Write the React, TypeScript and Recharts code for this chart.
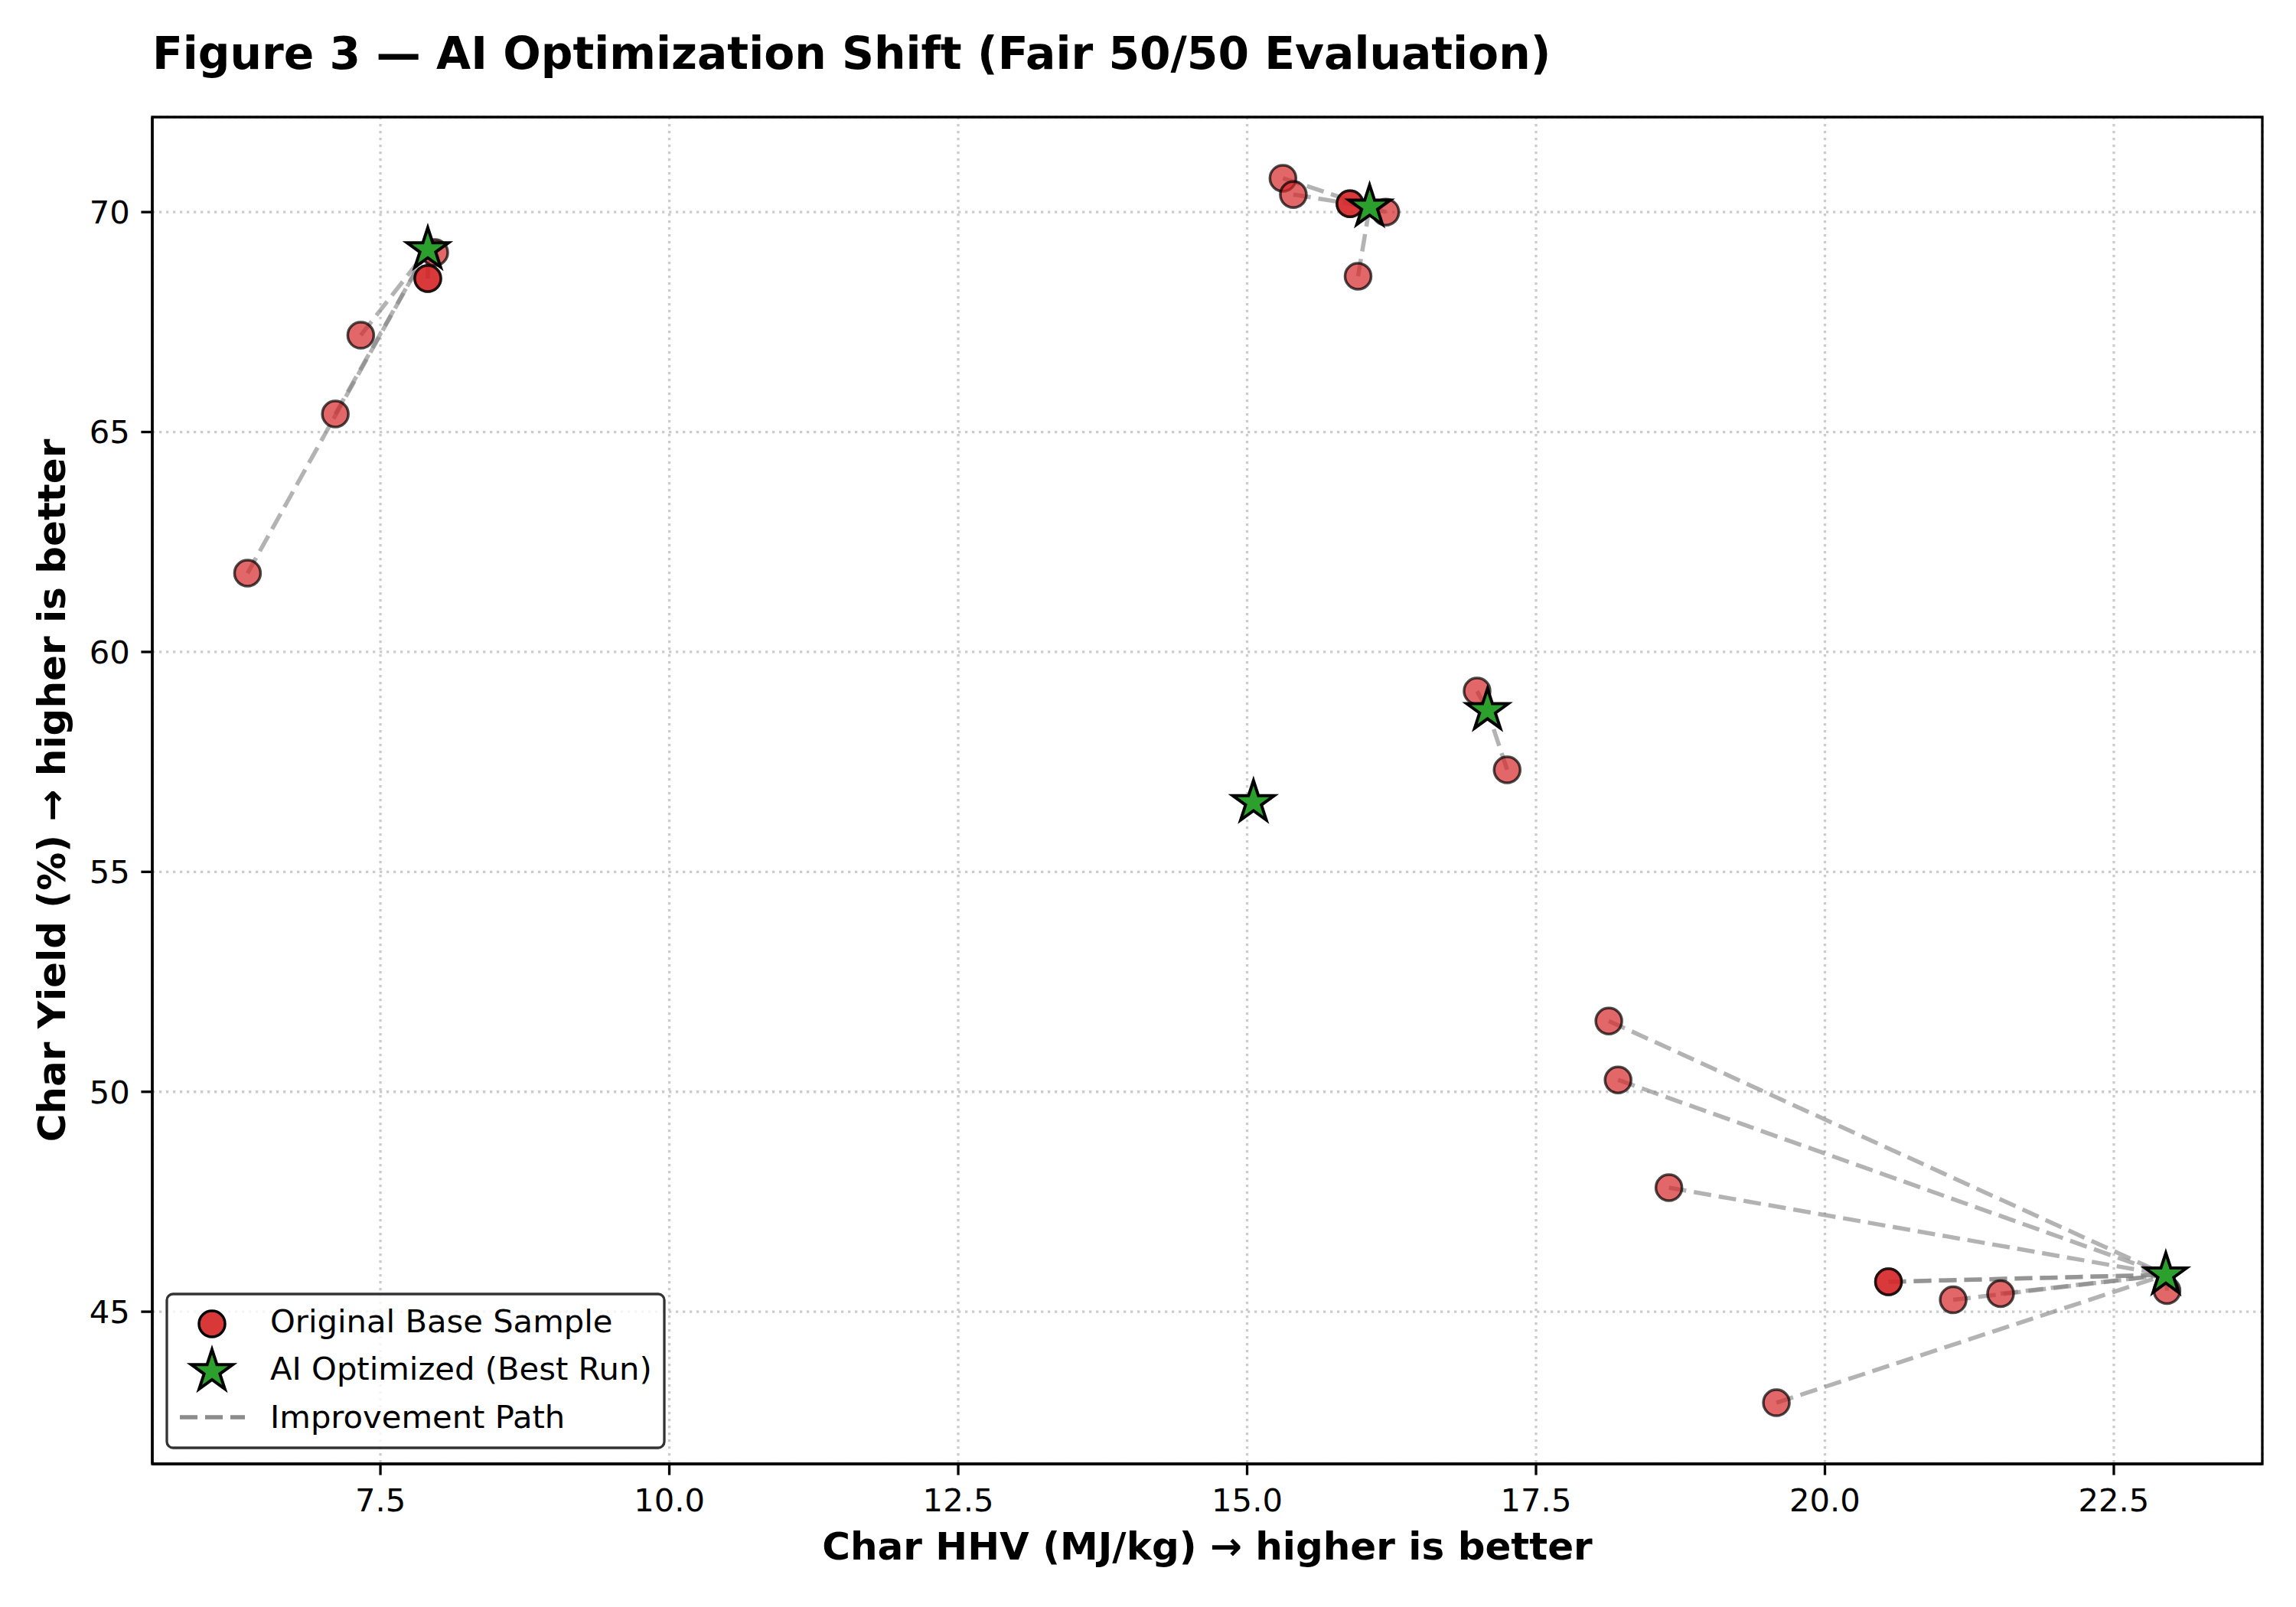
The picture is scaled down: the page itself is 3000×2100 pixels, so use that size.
import React from 'react';
import { ScatterChart, Scatter, XAxis, YAxis, CartesianGrid, ReferenceArea } from 'recharts';

// ---- data ----
const optHHV = [7.91, 16.06, 17.08, 15.055, 22.95];
const optYield = [69.15, 70.12, 58.67, 56.58, 45.84];

const baseHHV = [6.35, 7.11, 7.33, 7.91, 7.91, 7.97, 15.31, 15.4, 15.89, 15.89, 16.2, 15.96, 16.99, 17.25, 18.13, 18.21, 18.65, 20.55, 20.55, 21.11, 21.52, 19.58, 22.96];
const baseYield = [61.79, 65.41, 67.2, 68.49, 68.49, 69.08, 70.77, 70.4, 70.19, 70.19, 70.0, 68.54, 59.11, 57.32, 51.61, 50.27, 47.82, 45.68, 45.68, 45.27, 45.41, 42.93, 45.48];
const baseGroup = [0, 0, 0, 0, 0, 0, 1, 1, 1, 1, 1, 1, 2, 2, 4, 4, 4, 4, 4, 4, 4, 4, 4];

const xTicks = [7.5, 10, 12.5, 15, 17.5, 20, 22.5];
const yTicks = [45, 50, 55, 60, 65, 70];
const xDomain = [5.526, 23.785];
const yDomain = [41.54, 72.16];

const titleText = 'Figure 3 \u2014 AI Optimization Shift (Fair 50/50 Evaluation)';
const xLabelText = 'Char HHV (MJ/kg) \u2192 higher is better';
const yLabelText = 'Char Yield (%) \u2192 higher is better';
const legendLabels = ['Original Base Sample', 'AI Optimized (Best Run)', 'Improvement Path'];

// ---- derived tables ----
const basePoints = baseHHV.map((x, i) => ({ x, y: baseYield[i] }));
const optPoints = optHHV.map((x, i) => ({ x, y: optYield[i] }));
const paths = baseHHV.map((x, i) => [
  { x, y: baseYield[i] },
  { x: optHHV[baseGroup[i]], y: optYield[baseGroup[i]] },
]);

const W = 3000;
const H = 2100;
const FONT = "'DejaVu Sans', 'Liberation Sans', sans-serif";
const RED = '#d62728';
const GREEN = '#2ca02c';

function starPts(cx: number, cy: number, R: number) {
  const r = R * 0.381966;
  const pts: string[] = [];
  for (let k = 0; k < 10; k++) {
    const a = (-90 + k * 36) * (Math.PI / 180);
    const rad = k % 2 === 0 ? R : r;
    pts.push(`${cx + rad * Math.cos(a)},${cy + rad * Math.sin(a)}`);
  }
  return pts.join(' ');
}

const CircleShape = (p: any) => (
  <circle
    cx={p.cx}
    cy={p.cy}
    r={17}
    fill={RED}
    fillOpacity={0.7}
    stroke="#000"
    strokeOpacity={0.7}
    strokeWidth={3.5}
  />
);

const StarShape = (p: any) => (
  <polygon
    points={starPts(p.cx, p.cy, 28.5)}
    fill={GREEN}
    stroke="#000"
    strokeWidth={4}
    strokeLinejoin="miter"
  />
);

const NoShape = () => <g />;

const tickStyle = { fontSize: 41.7, fill: '#000', fontFamily: FONT };
const axisStroke = { stroke: '#000', strokeWidth: 3.3 };

export default function App() {
  return (
    <div style={{ position: 'absolute', left: 0, top: 0, width: W, height: H, background: '#fff' }}>
      <ScatterChart
        width={W}
        height={H}
        margin={{ top: 153, right: 44, left: 79, bottom: 87 }}
      >
        <CartesianGrid
          stroke="#cccccc"
          strokeWidth={3.3}
          strokeDasharray="3.3 5.7"
        />
        <XAxis
          dataKey="x"
          type="number"
          domain={xDomain}
          ticks={xTicks}
          allowDataOverflow
          tickFormatter={(v: number) => v.toFixed(1)}
          height={100}
          tickSize={14.6}
          tickMargin={17.8}
          tick={tickStyle}
          axisLine={axisStroke}
          tickLine={axisStroke}
        />
        <YAxis
          dataKey="y"
          type="number"
          domain={yDomain}
          ticks={yTicks}
          allowDataOverflow
          tickFormatter={(v: number) => String(v)}
          width={120}
          tickSize={14.6}
          tickMargin={14.6}
          tick={tickStyle}
          axisLine={axisStroke}
          tickLine={axisStroke}
        />
        {paths.map((pd, i) => (
          <Scatter
            key={'path' + i}
            data={pd}
            line={{ stroke: '#808080', strokeOpacity: 0.6, strokeWidth: 5.5, strokeDasharray: '23 10' }}
            shape={NoShape}
            isAnimationActive={false}
          />
        ))}
        <Scatter data={basePoints} shape={CircleShape} isAnimationActive={false} />
        <Scatter data={optPoints} shape={StarShape} isAnimationActive={false} />
        <ReferenceArea
          x1={xDomain[0]}
          x2={xDomain[1]}
          y1={yDomain[0]}
          y2={yDomain[1]}
          fill="none"
          fillOpacity={0}
          stroke="#000"
          strokeWidth={3.3}
          strokeOpacity={1}
          ifOverflow="visible"
        />
      </ScatterChart>

      <svg
        width={W}
        height={H}
        style={{ position: 'absolute', left: 0, top: 0, pointerEvents: 'none' }}
      >
        <text x={199} y={90} fontFamily={FONT} fontWeight="bold" fontSize={58.3} fill="#000">
          {titleText}
        </text>
        <text x={1577.5} y={2038} textAnchor="middle" fontFamily={FONT} fontWeight="bold" fontSize={50} fill="#000">
          {xLabelText}
        </text>
        <text
          x={0}
          y={0}
          transform="translate(85,1033) rotate(-90)"
          textAnchor="middle"
          fontFamily={FONT}
          fontWeight="bold"
          fontSize={50}
          fill="#000"
        >
          {yLabelText}
        </text>

        <g>
          <rect x={218} y={1691} width={650} height={201} rx={8} ry={8} fill="#fff" fillOpacity={0.8} stroke="#000" strokeOpacity={0.8} strokeWidth={3.3} />
          <circle cx={277} cy={1730} r={17} fill={RED} fillOpacity={0.92} stroke="#000" strokeWidth={3.5} />
          <polygon points={starPts(277, 1792, 28.5)} fill={GREEN} stroke="#000" strokeWidth={4} />
          <line x1={235} y1={1852} x2={320} y2={1852} stroke="#8c8c8c" strokeWidth={5.5} strokeDasharray="23 10" />
          <text x={353} y={1741} fontFamily={FONT} fontSize={41.7} fill="#000">{legendLabels[0]}</text>
          <text x={353} y={1803} fontFamily={FONT} fontSize={41.7} fill="#000">{legendLabels[1]}</text>
          <text x={353} y={1866} fontFamily={FONT} fontSize={41.7} fill="#000">{legendLabels[2]}</text>
        </g>
      </svg>
    </div>
  );
}
